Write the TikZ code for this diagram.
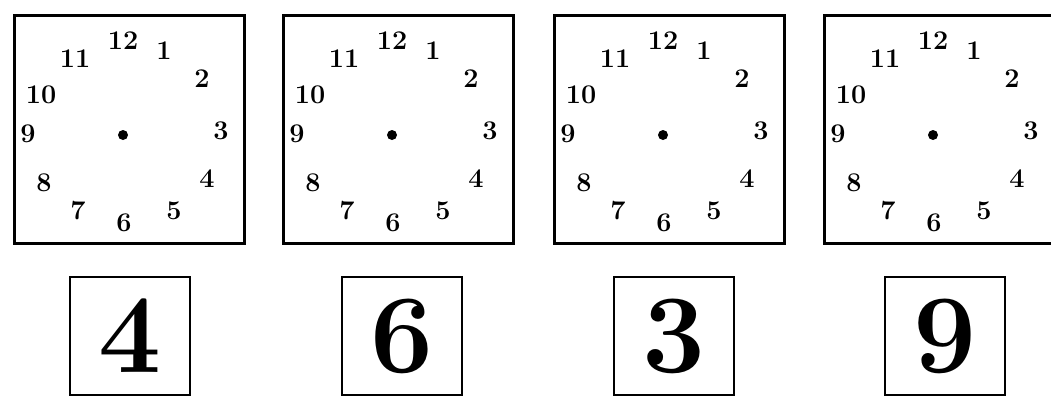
\documentclass[tikz,border=0pt]{standalone}
\begin{document}
\begin{tikzpicture}[x=1pt,y=-1pt,
  clockbox/.style={draw,line width=3pt,minimum width=230pt,minimum height=228pt,inner sep=0pt,anchor=north west},
  numbox/.style={draw,line width=2.2pt,minimum width=120pt,minimum height=118pt,inner sep=0pt,anchor=north west,font=\fontsize{112}{112}\selectfont\bfseries},
  hour/.style={font=\fontsize{27}{27}\selectfont\bfseries,inner sep=0pt}]
\useasboundingbox (0,0) rectangle (1051,397);
\clip (0,0) rectangle (1051,397);
\foreach \i/\x/\nx/\d in {1/13/69/4,2/282/341/6,3/553/613/3,4/823/884/9}{
  \node[clockbox] (c\i) at (\x,14) {};
  \fill (\x+110,14+121) circle (5pt) coordinate (dot\i);
  \foreach \h/\hx/\hy in {12/110/27,1/151/37,2/189/65,3/208/117,4/194/165,5/161/197,6/111/209,7/65/197,8/31/169,9/15/120,10/28/81,11/62/45}{
    \node[hour] (h\i-\h) at (\x+\hx,14+\hy) {\h};
  }
  \node[numbox] (n\i) at (\nx,276) {\d};
}
\end{tikzpicture}
\end{document}
